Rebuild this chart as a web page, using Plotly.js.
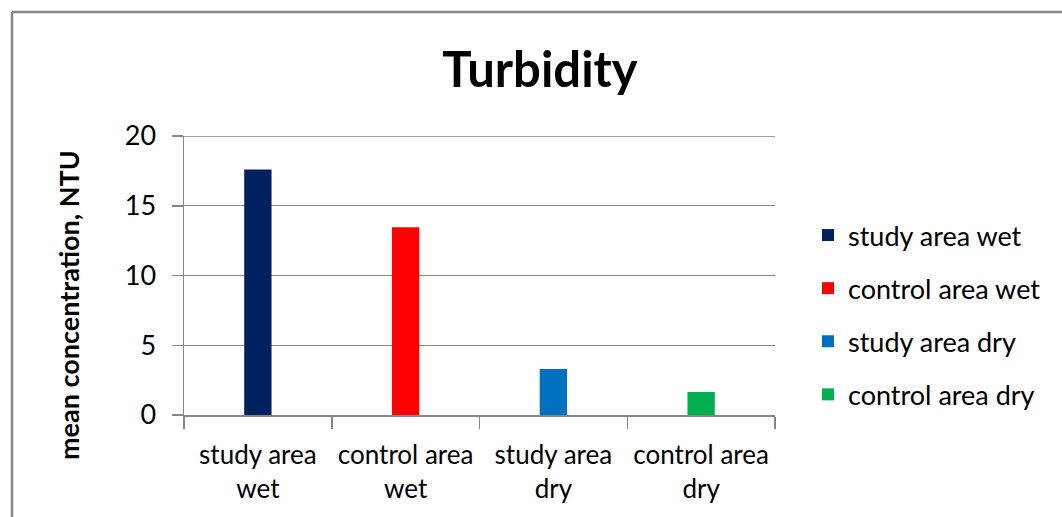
<!DOCTYPE html>
<html><head><meta charset="utf-8">
<script src="https://cdn.plot.ly/plotly-3.0.1.min.js"></script>
<style>html,body{margin:0;padding:0;background:#fff}#chart{width:1062px;height:517px}</style>
</head><body><div id="chart"></div>
<script>
const categories = ["study area<br>wet", "control area<br>wet", "study area<br>dry", "control area<br>dry"];
const seriesNames = ["study area wet", "control area wet", "study area dry", "control area dry"];
const values = [17.6, 13.45, 3.3, 1.65];
const colors = ["#002060", "#FF0000", "#0070C0", "#00B050"];
const yTicks = [0, 5, 10, 15, 20];

const FONT = "Lato, 'Open Sans', sans-serif";
const traces = seriesNames.map((name, i) => ({
  type: "bar",
  name: name,
  x: [categories[i]],
  y: [values[i]],
  width: 0.185,
  marker: {color: colors[i]},
  legendgroup: "g" + i,
  hoverinfo: "skip"
}));

const L = 184, R = 775, T = 136, B = 415;
const W = 1062, H = 517;
const pw = R - L, ph = B - T;
const px = v => (v - L) / pw;
const py = v => (B - v) / ph;
const yMax = yTicks[yTicks.length - 1];

const layout = {
  width: W, height: H,
  margin: {l: L, r: W - R, t: T, b: H - B, pad: 0},
  paper_bgcolor: "#fff", plot_bgcolor: "#fff",
  barmode: "overlay",
  showlegend: true,
  font: {family: FONT, color: "#000"},
  title: {text: "<b>Turbidity</b>", font: {family: FONT, size: 49, color: "#000"},
          x: 540 / W, xanchor: "center", y: 1 - 70 / H, yanchor: "middle"},
  xaxis: {
    type: "category", categoryorder: "array", categoryarray: categories,
    range: [-0.5, 3.5],
    showline: true, linecolor: "#868686", linewidth: 1.5,
    ticks: "outside", tickson: "boundaries", ticklen: 12, tickcolor: "#868686", tickwidth: 1.5,
    ticklabelstandoff: 16, tickangle: 0,
    tickfont: {family: FONT, size: 26, color: "#000"},
    showgrid: false, zeroline: false, fixedrange: true
  },
  yaxis: {
    range: [0, yMax], tickvals: yTicks, ticktext: yTicks.map(String),
    showline: true, linecolor: "#868686", linewidth: 1.5,
    ticks: "outside", ticklen: 11, tickcolor: "#868686", tickwidth: 1.5,
    ticklabelstandoff: 10,
    tickfont: {family: FONT, size: 27, color: "#000"},
    showgrid: true, gridcolor: "#868686", gridwidth: 1.3,
    zeroline: false, fixedrange: true
  },
  legend: {
    x: px(808), xanchor: "left", y: py(211), yanchor: "top",
    font: {family: FONT, size: 27, color: "#000"},
    traceorder: "grouped", tracegroupgap: 15,
    itemwidth: 30, bgcolor: "rgba(0,0,0,0)"
  },
  annotations: [{
    text: "<b>mean concentration, NTU</b>", textangle: -90,
    xref: "paper", yref: "paper", x: px(68), y: py(305),
    xanchor: "center", yanchor: "middle", showarrow: false,
    font: {family: FONT, size: 27, color: "#000"}
  }],
  shapes: [
    {type: "line", xref: "paper", yref: "y", x0: 0, x1: 1, y0: yMax, y1: yMax,
     line: {color: "#868686", width: 1.3}, layer: "below"},
    {type: "line", xref: "paper", yref: "paper", x0: px(12), x1: px(1070), y0: py(12), y1: py(12),
     line: {color: "#878787", width: 2.5}, layer: "above"},
    {type: "line", xref: "paper", yref: "paper", x0: px(12), x1: px(12), y0: py(12), y1: py(530),
     line: {color: "#878787", width: 2.5}, layer: "above"}
  ]
};

Plotly.newPlot("chart", traces, layout, {staticPlot: true, displayModeBar: false});
</script></body></html>
